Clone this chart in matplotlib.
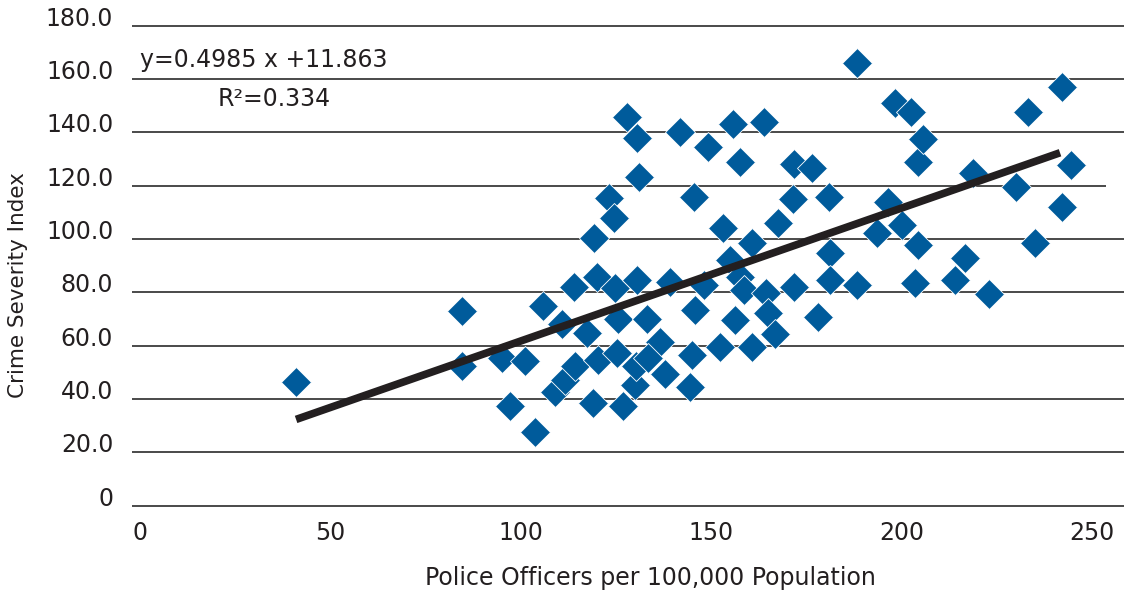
import numpy as np
import matplotlib
matplotlib.use('Agg')
import matplotlib.pyplot as plt

# police officers per 100,000 population vs crime severity index
officers = [
    41.0, 84.6, 84.6, 95.1, 97.2, 101.1, 103.7, 105.8, 109.0, 110.8,
    111.6, 114.0, 114.2, 117.4, 119.2, 120.0, 120.3, 119.0, 123.2, 124.5,
    125.3, 124.7, 125.5, 126.8, 127.9, 130.0, 130.5, 131.0, 130.5, 130.3,
    133.1, 136.6, 133.4, 137.9, 139.2, 141.8, 144.4, 145.0, 145.5, 145.7,
    148.1, 149.2, 152.3, 153.1, 154.9, 156.3, 155.7, 157.6, 157.6, 158.6,
    160.7, 160.7, 163.9, 164.4, 164.9, 166.8, 167.5, 171.7, 171.7, 171.5,
    176.5, 178.0, 180.9, 181.2, 181.2, 188.3, 188.3, 193.5, 196.4, 198.3,
    200.1, 202.5, 204.3, 203.5, 204.3, 205.6, 214.0, 216.6, 218.7, 223.0,
    230.0, 233.2, 235.0, 242.1, 242.1, 244.5,
]
severity = [
    46.3, 73.0, 52.3, 55.3, 37.3, 54.2, 27.6, 74.8, 42.6, 68.1,
    47.1, 82.0, 52.3, 64.7, 100.3, 85.7, 54.6, 38.5, 115.3, 107.8,
    57.2, 81.6, 70.0, 37.3, 145.7, 45.2, 137.8, 123.2, 84.6, 52.3,
    70.0, 61.3, 55.3, 49.3, 83.8, 140.1, 44.5, 56.5, 115.7, 73.3,
    82.7, 134.5, 59.5, 104.1, 92.1, 69.6, 143.1, 85.7, 128.8, 80.8,
    59.5, 98.5, 143.8, 79.7, 72.2, 64.3, 106.0, 82.0, 128.1, 115.0,
    126.6, 70.7, 115.7, 94.7, 84.6, 82.7, 166.0, 102.2, 113.8, 151.0,
    105.2, 147.6, 97.7, 83.5, 128.8, 137.5, 84.6, 92.8, 124.7, 79.3,
    119.5, 147.6, 98.5, 157.0, 112.0, 127.7,
]

slope = 0.4985
intercept = 11.863
r_squared = 0.334
trend_range = [41.0, 241.6]

y_ticks = [0, 20, 40, 60, 80, 100, 120, 140, 160, 180]
y_labels = ['0', '20.0', '40.0', '60.0', '80.0', '100.0', '120.0', '140.0', '160.0', '180.0']
x_ticks = [0, 50, 100, 150, 200, 250]
x_labels = ['0', '50', '100', '150', '200', '250']

plt.rcParams['font.family'] = ['DejaVu Sans']
text_color = '#231f20'
font_size = 17

fig = plt.figure(figsize=(11.24, 5.9), dpi=100)
ax = fig.add_axes([0.1174, 0.1431, 0.8826, 0.8136])
ax.set_xlim(-2.1, 258.4)
ax.set_ylim(0, 180)

# horizontal gridlines; the 120 line stops a little short on the right
grid_right = [258.4] * len(y_ticks)
grid_right[6] = 253.7
for yv, xr in zip(y_ticks, grid_right):
    ax.plot([-2.1, xr], [yv, yv], color='#4a4a4a', lw=1.4, zorder=1,
            solid_capstyle='butt', clip_on=False)

ax.plot(officers, severity, linestyle='none', marker='D', markersize=15,
        color='#005b9b', markeredgecolor='white', markeredgewidth=0.6,
        zorder=3, clip_on=False)

fit_x = np.array(trend_range)
ax.plot(fit_x, slope * fit_x + intercept, color='#231f20', lw=5.5,
        solid_capstyle='butt', zorder=4)

for side in ['top', 'right', 'left', 'bottom']:
    ax.spines[side].set_visible(False)

ax.set_xticks(x_ticks)
ax.set_xticklabels(x_labels)
ax.set_yticks(y_ticks)
ax.set_yticklabels(y_labels)
ax.tick_params(axis='both', length=0, labelsize=font_size, labelcolor=text_color)
ax.tick_params(axis='x', pad=11)
ax.tick_params(axis='y', pad=13.5)
plt.setp(ax.get_yticklabels(), va='baseline')

ax.set_xlabel('Police Officers per 100,000 Population', fontsize=font_size,
              color=text_color)
ax.xaxis.set_label_coords(0.523, -0.125)
ax.set_ylabel('Crime Severity Index', fontsize=15.5, color=text_color)
ax.yaxis.set_label_coords(-0.105, 0.46)

ax.text(0.0, 167, 'y=%.4f x +%.3f' % (slope, intercept), fontsize=font_size,
        color=text_color, ha='left', va='center')
ax.text(20.5, 152.5, 'R²=%.3f' % r_squared, fontsize=font_size,
        color=text_color, ha='left', va='center')

fig.savefig('out.png', dpi=100)
